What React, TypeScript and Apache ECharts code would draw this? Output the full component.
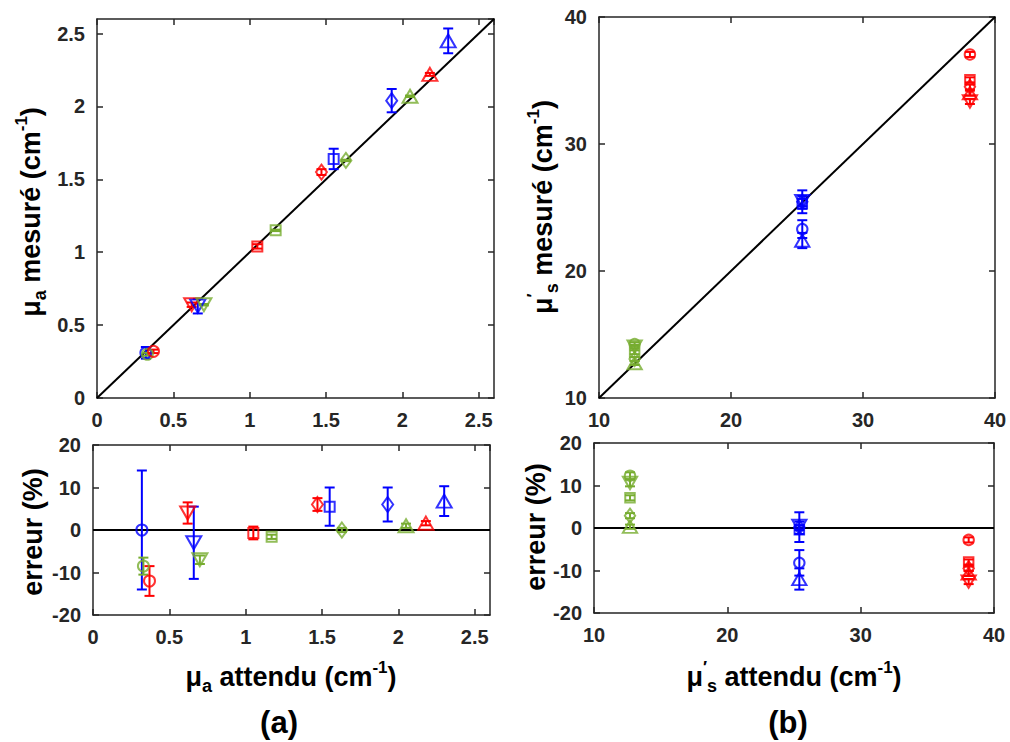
import React, { useEffect, useRef } from 'react';
import * as echarts from 'echarts';

// ---------- data ----------
// panel (a): absorption
const aGroup = ['B', 'G', 'R', 'R', 'B', 'G', 'R', 'G', 'R', 'B', 'G', 'B', 'G', 'R', 'B'];
const aShape = ['o', 'o', 'o', 'v', 'v', 'v', 's', 's', 'd', 's', 'd', 'd', '^', '^', '^'];
const aExpected = [0.32, 0.33, 0.37, 0.62, 0.66, 0.70, 1.05, 1.17, 1.47, 1.55, 1.63, 1.93, 2.05, 2.18, 2.30];
const aMeasured = [0.31, 0.30, 0.32, 0.64, 0.63, 0.64, 1.04, 1.15, 1.55, 1.64, 1.63, 2.04, 2.07, 2.22, 2.45];
const aMeasuredErr = [0.04, 0.01, 0.012, 0.015, 0.05, 0.005, 0.015, 0.005, 0.02, 0.07, 0.005, 0.08, 0.005, 0.01, 0.085];
const aError = [0, -8.5, -12, 4, -3, -7, -0.7, -1.6, 6, 5.5, 0, 6, 1, 1.6, 6.8];
const aErrorErr = [14, 2, 3.5, 2.5, 8.5, 1, 1.5, 0.5, 1.5, 4.5, 0.5, 4, 0.5, 0.5, 3.5];

// panel (b): reduced scattering
const bGroup = ['G', 'G', 'G', 'G', 'G', 'B', 'B', 'B', 'B', 'B', 'R', 'R', 'R', 'R', 'R'];
const bShape = ['o', 'v', 's', 'd', '^', 'd', 'v', 's', 'o', '^', 'o', 's', 'd', '^', 'v'];
const bExpected = [12.7, 12.7, 12.7, 12.7, 12.7, 25.4, 25.4, 25.4, 25.4, 25.4, 38.1, 38.1, 38.1, 38.1, 38.1];
const bMeasured = [14.25, 14.05, 13.6, 13.07, 12.75, 25.45, 25.5, 25.3, 23.3, 22.4, 37.05, 35.05, 34.5, 34.0, 33.35];
const bMeasuredErr = [0.15, 0.15, 0.15, 0.15, 0.15, 0.9, 0.4, 0.4, 0.7, 0.6, 0.2, 0.2, 0.2, 0.2, 0.2];
const bError = [12.3, 10.6, 7.1, 2.9, 0.3, 0.2, 0.5, -0.4, -8.2, -12, -2.8, -8, -9.5, -10.7, -12.6];
const bErrorErr = [0.8, 0.8, 0.6, 0.6, 0.5, 3.5, 1, 1, 3, 2.5, 0.6, 0.6, 0.6, 0.6, 0.6];

// axis ranges / ticks
const aRange = [0, 2.6];
const aTick = 0.5;
const errRange = [-20, 20];
const errTick = 10;
const bRange = [10, 40];
const bTick = 10;

// ---------- styles ----------
const COLORS: Record<string, string> = { B: '#0000ff', R: '#ff0000', G: '#77ac30' };
const SYMBOL: Record<string, string> = { o: 'circle', s: 'rect', d: 'diamond', '^': 'triangle', v: 'triangle' };
const SIZE: Record<string, number[]> = { o: [11, 11], s: [10, 10], d: [11, 15], '^': [15, 13], v: [15, 13] };
const AXIS_COLOR = '#262626';
const FONT = "'Liberation Sans', Arial, sans-serif";

const GRIDS = [
  { left: 97, top: 19, width: 397, height: 379 },
  { left: 93, top: 445, width: 397, height: 170 },
  { left: 599, top: 17, width: 396, height: 381 },
  { left: 594, top: 443, width: 400, height: 170 },
];

function axis(gridIndex: number, position: string, range: number[], interval: number, showLabel: boolean) {
  const hideMax = range[1] % interval !== 0;
  return {
    type: 'value',
    gridIndex,
    position,
    min: range[0],
    max: range[1],
    interval,
    axisLine: { show: true, onZero: false, lineStyle: { color: AXIS_COLOR, width: 1.5 } },
    axisTick: { show: true, inside: true, length: 6, lineStyle: { color: AXIS_COLOR, width: 1.5 } },
    axisLabel: {
      show: showLabel,
      color: AXIS_COLOR,
      fontSize: 20,
      fontWeight: 'bold',
      fontFamily: FONT,
      margin: 12,
      showMaxLabel: !hideMax,
    },
    splitLine: { show: false },
  };
}

function markers(g: number, xs: number[], ys: number[], group: string[], shape: string[], f: number) {
  return {
    type: 'scatter',
    xAxisIndex: 2 * g,
    yAxisIndex: 2 * g,
    z: 4,
    data: xs.map((x, i) => ({
      value: [x, ys[i]],
      symbol: SYMBOL[shape[i]],
      symbolRotate: shape[i] === 'v' ? 180 : 0,
      symbolSize: SIZE[shape[i]].map((s) => s * f),
      itemStyle: { color: 'rgba(255,255,255,0)', borderColor: COLORS[group[i]], borderWidth: 2 },
    })),
  };
}

function errorBars(g: number, xs: number[], ys: number[], errs: number[], group: string[]) {
  return {
    type: 'custom',
    xAxisIndex: 2 * g,
    yAxisIndex: 2 * g,
    z: 3,
    data: xs.map((x, i) => [x, ys[i], errs[i]]),
    encode: { x: 0, y: 1 },
    renderItem: (params: any, api: any) => {
      const x = api.value(0);
      const y = api.value(1);
      const e = api.value(2);
      const hi = api.coord([x, y + e]);
      const lo = api.coord([x, y - e]);
      const c = 5;
      const style = { stroke: COLORS[group[params.dataIndex]], lineWidth: 2 };
      return {
        type: 'group',
        children: [
          { type: 'line', shape: { x1: hi[0], y1: hi[1], x2: lo[0], y2: lo[1] }, style },
          { type: 'line', shape: { x1: hi[0] - c, y1: hi[1], x2: hi[0] + c, y2: hi[1] }, style },
          { type: 'line', shape: { x1: lo[0] - c, y1: lo[1], x2: lo[0] + c, y2: lo[1] }, style },
        ],
      };
    },
  };
}

function refLine(g: number, pts: number[][]) {
  return {
    type: 'line',
    xAxisIndex: 2 * g,
    yAxisIndex: 2 * g,
    z: 2,
    data: pts,
    showSymbol: false,
    silent: true,
    lineStyle: { color: '#000', width: 2 },
  };
}

const TITLE_SIZE = 27;
const rich = {
  m: { fontSize: TITLE_SIZE, fontWeight: 'bold', fontFamily: FONT, color: AXIS_COLOR, lineHeight: 36 },
  s: { fontSize: 18, fontWeight: 'bold', fontFamily: FONT, color: AXIS_COLOR, verticalAlign: 'bottom', lineHeight: 36 },
  p: { fontSize: 17, fontWeight: 'bold', fontFamily: FONT, color: AXIS_COLOR, verticalAlign: 'top', lineHeight: 36 },
};

function title(text: string, x: number, y: number, rotate: boolean) {
  return {
    type: 'text',
    x,
    y,
    rotation: rotate ? Math.PI / 2 : 0,
    style: { text, rich, align: 'center', verticalAlign: 'middle' },
  };
}

export default function App() {
  const ref = useRef<HTMLDivElement>(null);
  useEffect(() => {
    document.body.style.margin = '0';
    const chart = echarts.init(ref.current!, undefined, { renderer: 'svg' });
    const option = {
      animation: false,
      backgroundColor: '#ffffff',
      grid: GRIDS.map((g) => ({ ...g, containLabel: false })),
      xAxis: [
        axis(0, 'bottom', aRange, aTick, true),
        axis(0, 'top', aRange, aTick, false),
        axis(1, 'bottom', aRange, aTick, true),
        axis(1, 'top', aRange, aTick, false),
        axis(2, 'bottom', bRange, bTick, true),
        axis(2, 'top', bRange, bTick, false),
        axis(3, 'bottom', bRange, bTick, true),
        axis(3, 'top', bRange, bTick, false),
      ],
      yAxis: [
        axis(0, 'left', aRange, aTick, true),
        axis(0, 'right', aRange, aTick, false),
        axis(1, 'left', errRange, errTick, true),
        axis(1, 'right', errRange, errTick, false),
        axis(2, 'left', bRange, bTick, true),
        axis(2, 'right', bRange, bTick, false),
        axis(3, 'left', errRange, errTick, true),
        axis(3, 'right', errRange, errTick, false),
      ],
      series: [
        refLine(0, [[aRange[0], aRange[0]], [aRange[1], aRange[1]]]),
        refLine(1, [[aRange[0], 0], [aRange[1], 0]]),
        refLine(2, [[bRange[0], bRange[0]], [bRange[1], bRange[1]]]),
        refLine(3, [[bRange[0], 0], [bRange[1], 0]]),
        errorBars(0, aExpected, aMeasured, aMeasuredErr, aGroup),
        errorBars(1, aExpected, aError, aErrorErr, aGroup),
        errorBars(2, bExpected, bMeasured, bMeasuredErr, bGroup),
        errorBars(3, bExpected, bError, bErrorErr, bGroup),
        markers(0, aExpected, aMeasured, aGroup, aShape, 1),
        markers(1, aExpected, aError, aGroup, aShape, 1),
        markers(2, bExpected, bMeasured, bGroup, bShape, 0.95),
        markers(3, bExpected, bError, bGroup, bShape, 0.95),
      ],
      graphic: [
        title('{m|μ}{s|a}{m| mesuré (cm}{p|-1}{m|)}', 31, 212, true),
        title('{m|erreur (%)}', 33, 532, true),
        title('{m|μ}{p|′}{s|s}{m| mesuré (cm}{p|-1}{m|)}', 543, 207, true),
        title('{m|erreur (%)}', 536, 527, true),
        title('{m|μ}{s|a}{m| attendu (cm}{p|-1}{m|)}', 291, 677, false),
        title('{m|μ}{p|′}{s|s}{m| attendu (cm}{p|-1}{m|)}', 794, 677, false),
        {
          type: 'text', x: 279, y: 722,
          style: { text: '(a)', fontSize: 31, fontWeight: 'bold', fontFamily: FONT, fill: '#000', align: 'center', verticalAlign: 'middle' },
        },
        {
          type: 'text', x: 788, y: 722,
          style: { text: '(b)', fontSize: 31, fontWeight: 'bold', fontFamily: FONT, fill: '#000', align: 'center', verticalAlign: 'middle' },
        },
      ],
    };
    chart.setOption(option as any);
    return () => chart.dispose();
  }, []);
  return <div ref={ref} style={{ width: 1010, height: 742, position: 'absolute', left: 0, top: 0 }} />;
}
